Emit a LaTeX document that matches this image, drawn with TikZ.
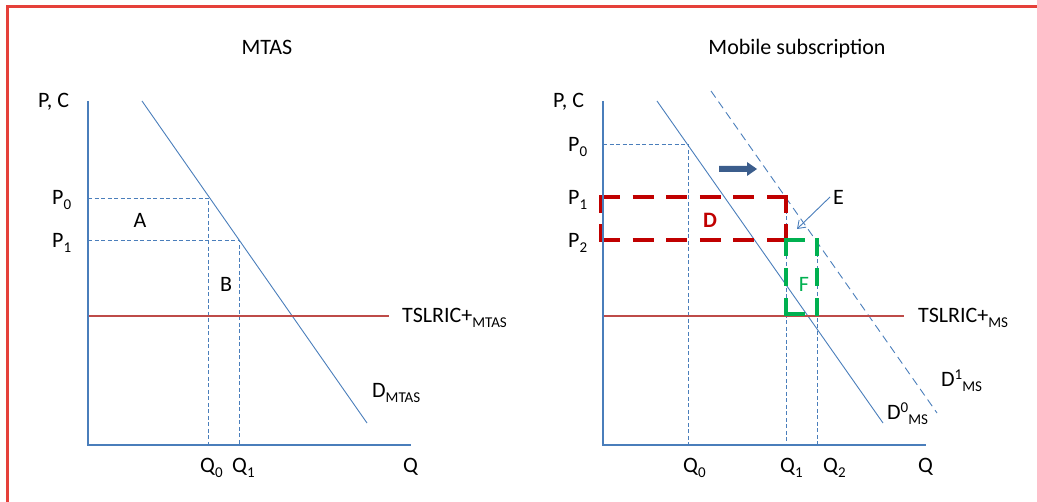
\documentclass[tikz,border=0pt]{standalone}
\usepackage{fontspec}
\setmainfont{Carlito}
\usetikzlibrary{arrows.meta}
\definecolor{axisblue}{HTML}{4A7EBB}
\definecolor{costred}{HTML}{BE4B48}
\definecolor{framered}{HTML}{E5403A}
\definecolor{boxred}{HTML}{C00000}
\definecolor{boxgreen}{HTML}{00B050}
\definecolor{shiftblue}{HTML}{3B5D8C}
% small lowered / raised indices in the text font
\newcommand\lo[1]{\raisebox{-5pt}{\fontsize{15}{17}\selectfont #1}}
\newcommand\hi[1]{\raisebox{7pt}{\fontsize{15}{17}\selectfont #1}}
\tikzset{
  axisline/.style={draw=axisblue, line width=2.5pt},
  demand/.style={draw=axisblue, line width=0.9pt},
  demandshift/.style={draw=axisblue, line width=0.9pt, dash pattern=on 8pt off 5pt},
  guide/.style={draw=axisblue, line width=0.8pt, dash pattern=on 4pt off 2.5pt},
  cost/.style={draw=costred, line width=1.6pt},
  lbl/.style={inner sep=0pt, font=\fontsize{22}{26}\selectfont},
  areaside/.style={line width=4.2pt, line cap=butt},
}
\begin{document}
\begin{tikzpicture}[x=1pt, y=-1pt]
\useasboundingbox (0,0) rectangle (1037,502);
% outer frame (top and left edges)
\draw[framered, line width=3pt] (7,502) -- (7,7) -- (1037,7);

% ---------------- left panel: MTAS ----------------
\coordinate (Lo) at (88,445);
\coordinate (Ltop) at (88,101);
\coordinate (Lend) at (411,445);
\coordinate (LdA) at (142,101);
\coordinate (LdB) at (367,423);
\coordinate (Lp0) at (88,198);
\coordinate (Lp0c) at (208,198);
\coordinate (Lq0) at (208,445);
\coordinate (Lp1) at (88,240);
\coordinate (Lp1c) at (239,240);
\coordinate (Lq1) at (239,445);
\coordinate (Lc0) at (88,316);
\coordinate (Lc1) at (389,316);

\draw[guide] (Lp0) -- (Lp0c) -- (Lq0);
\draw[guide] (Lp1) -- (Lp1c) -- (Lq1);
\draw[demand] (LdA) -- (LdB);
\draw[cost] (Lc0) -- (Lc1);
\draw[axisline] (Ltop) -- (Lo) -- (Lend);

\node[lbl, anchor=base] (ltitle) at (267,55) {MTAS};
\node[lbl, anchor=base west] (lpc) at (38,108) {P, C};
\node[lbl, anchor=base west] (lP0) at (52,205) {P\lo{0}};
\node[lbl, anchor=base west] (lP1) at (52,248) {P\lo{1}};
\node[lbl] (lA) at (140,220) {A};
\node[lbl] (lB) at (226,284) {B};
\node[lbl, anchor=base west] (ltsl) at (402,323) {TSLRIC+\lo{MTAS}};
\node[lbl, anchor=base west] (ldem) at (372,398) {D\lo{MTAS}};
\node[lbl, anchor=base west] (lQ0) at (200,473) {Q\lo{0}};
\node[lbl, anchor=base west] (lQ1) at (232,473) {Q\lo{1}};
\node[lbl, anchor=base west] (lQ) at (403,473) {Q};

% ---------------- right panel: mobile subscription ----------------
\coordinate (Ro) at (603,445);
\coordinate (Rtop) at (603,101);
\coordinate (Rend) at (926,445);
\coordinate (RdA) at (657,101);
\coordinate (RdB) at (883,423);
\coordinate (ReA) at (711,91);
\coordinate (ReB) at (937,413);
\coordinate (Rp0) at (603,144);
\coordinate (Rp0c) at (688,144);
\coordinate (Rq0) at (688,445);
\coordinate (Rq1t) at (786,197);
\coordinate (Rq1) at (786,445);
\coordinate (Rq2t) at (817,240);
\coordinate (Rq2) at (817,445);
\coordinate (Rc0) at (603,316);
\coordinate (Rc1) at (904,316);

\draw[guide] (Rp0) -- (Rp0c) -- (Rq0);
\draw[guide] (Rq1t) -- (Rq1);
\draw[guide] (Rq2t) -- (Rq2);
\draw[demand] (RdA) -- (RdB);
\draw[demandshift] (ReA) -- (ReB);
\draw[cost] (Rc0) -- (Rc1);

% area D: dashed red box, a dash in every corner
\begin{scope}[areaside, boxred]
  \draw[dash pattern=on 21pt off 12.6pt] (599,197) -- (788,197);
  \draw[dash pattern=on 21pt off 12.6pt] (599,240) -- (788,240);
  \draw[dash pattern=on 18pt off 11pt] (601,195) -- (601,242);
  \draw[dash pattern=on 18pt off 11pt] (786,195) -- (786,242);
\end{scope}
% area F: dashed green box
\begin{scope}[areaside, boxgreen]
  \draw[dash pattern=on 18pt off 12pt] (786,238) -- (786,316);
  \draw[dash pattern=on 18pt off 12pt] (817,238) -- (817,316);
  \draw (784,240) -- (805,240);
  \draw (784,314) -- (805,314);
\end{scope}

\draw[axisline] (Rtop) -- (Ro) -- (Rend);

% shift of demand
\fill[shiftblue] (719,166) -- (747,166) -- (747,162) -- (757,169)
  -- (747,176) -- (747,172) -- (719,172) -- cycle;

\node[lbl, anchor=base] (rtitle) at (797,55) {Mobile subscription};
\node[lbl, anchor=base west] (rpc) at (553,108) {P, C};
\node[lbl, anchor=base west] (rP0) at (568,152) {P\lo{0}};
\node[lbl, anchor=base west] (rP1) at (568,205) {P\lo{1}};
\node[lbl, anchor=base west] (rP2) at (568,248) {P\lo{2}};
\node[lbl, text=boxred, font=\fontsize{22}{26}\selectfont\bfseries] (rD) at (710,220) {D};
\node[lbl, text=boxgreen] (rF) at (804,284) {F};
\node[lbl, anchor=base west] (rE) at (833,205) {E};
\coordinate (rEtip) at (797,229);
\coordinate (rEtail) at (830,197);
\draw[axisblue, line width=0.9pt, -{Straight Barb[length=7pt,width=10pt]}]
  (rEtail) -- (rEtip);
\node[lbl, anchor=base west] (rtsl) at (918,323) {TSLRIC+\lo{MS}};
\node[lbl, anchor=base west] (rd1) at (941,387) {D\hi{1}\lo{MS}};
\node[lbl, anchor=base west] (rd0) at (887,420) {D\hi{0}\lo{MS}};
\node[lbl, anchor=base west] (rQ0) at (683,473) {Q\lo{0}};
\node[lbl, anchor=base west] (rQ1) at (780,473) {Q\lo{1}};
\node[lbl, anchor=base west] (rQ2) at (823,473) {Q\lo{2}};
\node[lbl, anchor=base west] (rQ) at (918,473) {Q};
\end{tikzpicture}
\end{document}
